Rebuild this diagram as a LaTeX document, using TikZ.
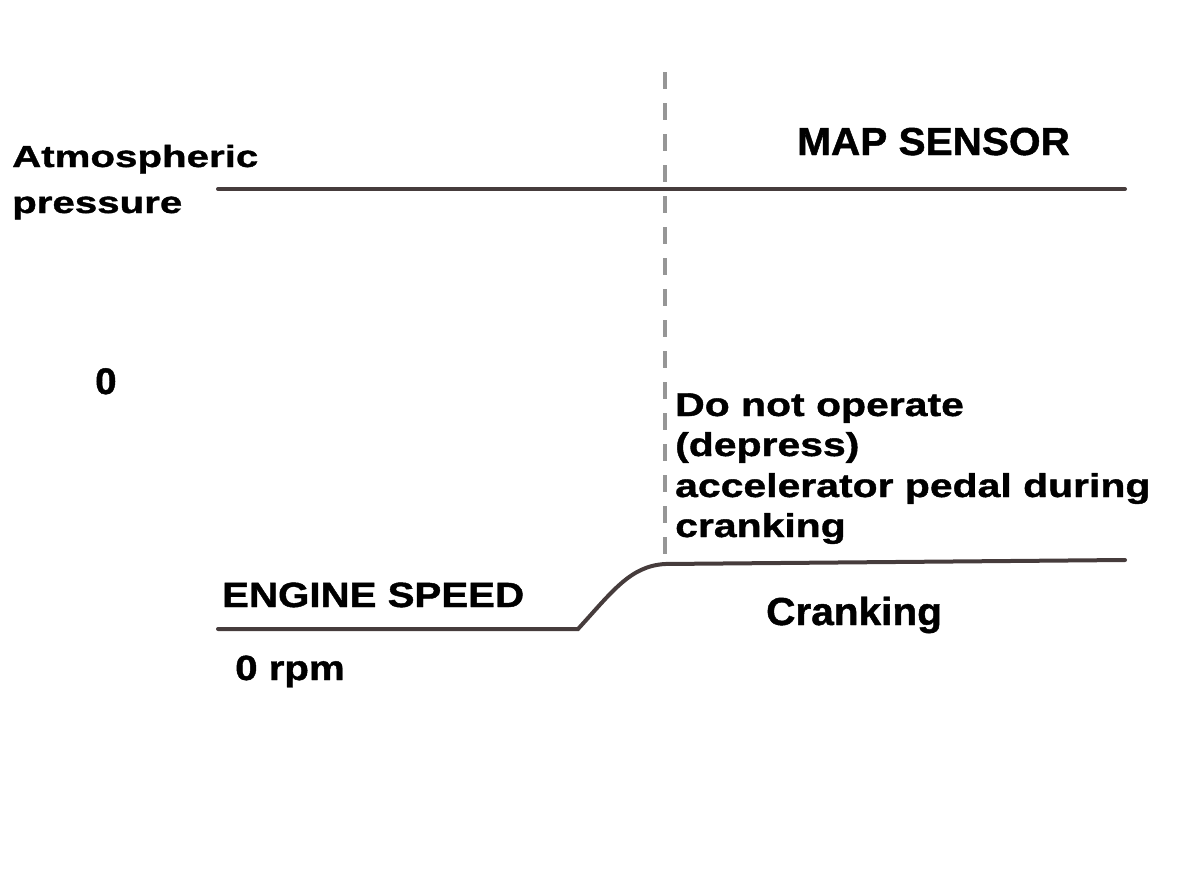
\documentclass[tikz,border=0pt]{standalone}
\usepackage{fontspec}
\setmainfont{Liberation Sans}
\newfontfamily\atmfont[FakeStretch=1.32,FakeBold=1.2]{Liberation Sans}
\newfontfamily\notefont[FakeStretch=1.24,FakeBold=1.2]{Liberation Sans}
\newfontfamily\engfont[FakeStretch=1.15,FakeBold=1.2]{Liberation Sans}
\newfontfamily\mapfont[FakeStretch=1.04,FakeBold=1.2]{Liberation Sans}
\definecolor{trace}{RGB}{70,60,60}
\definecolor{dashgray}{RGB}{150,150,150}
\tikzset{
	lbl/.style={anchor=base west, inner sep=0pt, text=black},
	trace/.style={line width=4pt, draw=trace, line cap=round},
	marker/.style={line width=3.5pt, draw=dashgray, dash pattern=on 17pt off 14pt}
}

\begin{document}
\begin{tikzpicture}[x=1pt,y=-1pt]
		\useasboundingbox (0,0) rectangle (1200,878);
		
		\coordinate (mtop) at (665,72);
		\coordinate (mbot) at (665,560);
		\draw[marker] (mtop) -- (mbot);
		
		\coordinate (mapL) at (218,189);
		\coordinate (mapR) at (1125,189);
		\draw[trace] (mapL) -- (mapR);
		
		\coordinate (engL) at (218,629);
		\coordinate (engK) at (578,629);
		\coordinate (engC) at (665,564);
		\coordinate (engR) at (1125,560);
		\draw[trace] (engL) -- (engK) .. controls (612,592) and (630,566) .. (engC) -- (engR);
		
		\node[lbl, font=\atmfont\bfseries\fontsize{30.5}{36}\selectfont] (atm) at (12,167) {Atmospheric};
		\node[lbl, font=\atmfont\bfseries\fontsize{30.5}{36}\selectfont] (pres) at (12,213) {pressure};
		\node[lbl, font=\mapfont\bfseries\fontsize{39}{46}\selectfont] (map) at (797,155) {MAP SENSOR};
		\node[lbl, font=\mapfont\bfseries\fontsize{37}{44}\selectfont] (zero) at (95,394) {0};
		
		\node[lbl, font=\notefont\bfseries\fontsize{33}{40}\selectfont] (note1) at (675,416) {Do not operate};
		\node[lbl, font=\notefont\bfseries\fontsize{33}{40}\selectfont] (note2) at (675,456) {(depress)};
		\node[lbl, font=\notefont\bfseries\fontsize{33}{40}\selectfont] (note3) at (675,497) {accelerator pedal during};
		\node[lbl, font=\notefont\bfseries\fontsize{33}{40}\selectfont] (note4) at (675,537) {cranking};
		
		\node[lbl, font=\engfont\bfseries\fontsize{35}{42}\selectfont] (eng) at (222,607) {ENGINE SPEED};
		\node[lbl, font=\engfont\bfseries\fontsize{35}{42}\selectfont] (rpm) at (235,680) {0 rpm};
		\node[lbl, font=\mapfont\bfseries\fontsize{39}{46}\selectfont] (crank) at (766,625) {Cranking};
	\end{tikzpicture}
\end{document}
